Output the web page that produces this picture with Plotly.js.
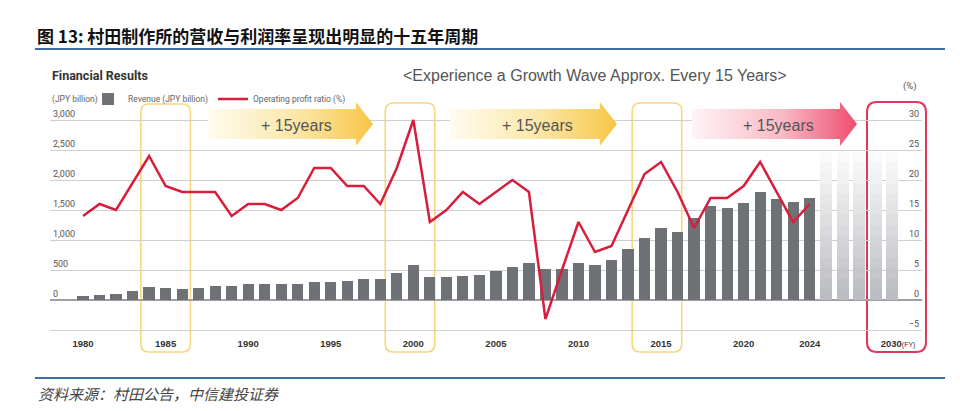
<!DOCTYPE html>
<html>
<head>
<meta charset="utf-8">
<script src="https://cdn.plot.ly/plotly-3.0.1.min.js"></script>
<style>html,body{margin:0;padding:0;background:#fff;}#chart{width:960px;height:411px;}</style>
</head>
<body>
<div id="chart"></div>
<script>
// ---- data ----
const YEARS = [1980,1981,1982,1983,1984,1985,1986,1987,1988,1989,1990,1991,1992,1993,1994,1995,1996,1997,1998,1999,2000,2001,2002,2003,2004,2005,2006,2007,2008,2009,2010,2011,2012,2013,2014,2015,2016,2017,2018,2019,2020,2021,2022,2023,2024];
const REVENUE = [60,90,105,155,210,195,190,200,240,240,270,270,265,270,305,305,320,355,355,445,580,390,390,405,415,485,555,620,510,520,610,580,665,845,1040,1205,1130,1360,1565,1530,1620,1805,1680,1640,1695];
const OP_RATIO = [14,16,15,19.5,24,19,18,18,18,14,16,16,15,17,22,22,19,19,16,22,30,13,15,18,16,18,20,18,-3.2,5,13,8,9,15,21,23,18,12,17,17,19,23,18,13,16];
const FUTURE_YEARS = [2025,2026,2027,2028,2029];
const FUTURE_REVENUE = [2470,2470,2470,2470,2470];
const X_TICKS = [1980,1985,1990,1995,2000,2005,2010,2015,2020,2024,2029.35];
const X_TICK_TEXT = ['1980','1985','1990','1995','2000','2005','2010','2015','2020','2024','2030<span style="font-size:7px;font-weight:normal">(FY)</span>'];
const LEFT_TICKS = [0,500,1000,1500,2000,2500,3000];
const RIGHT_TICKS = [-5,0,5,10,15,20,25,30];

// ---- geometry ----
const W = 960, H = 411;
const M = {l:50, r:38, t:98, b:79};
const PW = W - M.l - M.r, PH = H - M.t - M.b;
const XR = [1978.0, 2030.8];
const YR = [-533.33, 3366.67];
const Y2R = [-5.3333, 33.6667];
const X = px => (px - M.l) / PW;
const Y = py => (H - M.b - py) / PH;
const XY = yr => (yr - XR[0]) / (XR[1] - XR[0]);

function rrect(x0, x1, y0, y1, r, color, w) {
  const rx = r / PW, ry = r / PH;
  const p = `M${x0+rx},${y1} L${x1-rx},${y1} Q${x1},${y1} ${x1},${y1-ry} L${x1},${y0+ry} Q${x1},${y0} ${x1-rx},${y0} L${x0+rx},${y0} Q${x0},${y0} ${x0},${y0+ry} L${x0},${y1-ry} Q${x0},${y1} ${x0+rx},${y1} Z`;
  return {type:'path', xref:'paper', yref:'paper', path:p, line:{color:color, width:w}, fillcolor:'rgba(0,0,0,0)', layer:'below'};
}
function arrowSrc(c0, c1, c2) {
  const svg = `<svg xmlns='http://www.w3.org/2000/svg' width='165' height='44' viewBox='0 0 165 44' preserveAspectRatio='none'><defs><linearGradient id='g' x1='0' x2='1' y1='0' y2='0'><stop offset='0' stop-color='${c0}'/><stop offset='0.55' stop-color='${c1}'/><stop offset='1' stop-color='${c2}'/></linearGradient></defs><polygon points='0,7 148,7 148,0 165,22 148,44 148,37 0,37' fill='url(#g)'/></svg>`;
  return 'data:image/svg+xml;charset=utf-8,' + encodeURIComponent(svg);
}
function arrowImg(x0, x1, c0, c1, c2) {
  return {source: arrowSrc(c0, c1, c2), xref:'paper', yref:'paper', x:X(x0), y:Y(102), sizex:(x1-x0)/PW, sizey:44/PH, xanchor:'left', yanchor:'top', sizing:'stretch', layer:'above'};
}

// ---- traces ----
const traces = [];
const N = 14;
for (let k = N; k >= 1; k--) {
  const t = (k - 1) / (N - 1); // 0 bottom (dark) .. 1 top (light)
  const c0 = [186,189,193], c1 = [250,250,251];
  const c = c0.map((v,i) => Math.round(v + (c1[i]-v)*t));
  traces.push({type:'bar', x:FUTURE_YEARS, y:FUTURE_REVENUE.map(v => v * k / N), width:0.7,
    marker:{color:`rgb(${c.join(',')})`, line:{width:0}}, showlegend:false, hoverinfo:'skip', yaxis:'y'});
}
traces.push({type:'bar', name:'Revenue (JPY billion)', x:YEARS, y:REVENUE, width:0.68,
  marker:{color:'#6e7175', line:{width:0}}, yaxis:'y'});
traces.push({type:'scatter', mode:'lines', name:'Operating profit ratio (%)', x:YEARS, y:OP_RATIO,
  line:{color:'#d81e3d', width:2.5}, yaxis:'y2'});

const greyTxt = '#555';
const layout = {
  width:W, height:H, margin:M,
  paper_bgcolor:'#fff', plot_bgcolor:'rgba(0,0,0,0)',
  barmode:'overlay', bargap:0, hovermode:false,
  font:{family:'Roboto, sans-serif', color:greyTxt},
  showlegend:true,
  legend:{orientation:'h', x:X(88), xanchor:'left', y:Y(99), yanchor:'middle',
    font:{family:'Roboto, sans-serif', size:8.5, color:'#666'}, itemwidth:30, bgcolor:'rgba(0,0,0,0)', tracegroupgap:0},
  xaxis:{range:XR, tickvals:X_TICKS, ticktext:X_TICK_TEXT, showgrid:false, zeroline:false, showline:false,
    ticks:'outside', ticklen:3, tickcolor:'rgba(0,0,0,0)',
    tickfont:{family:'Liberation Sans, Arial, sans-serif', size:9.5, color:'#333', weight:'bold'}, fixedrange:true},
  yaxis:{range:YR, tickvals:LEFT_TICKS, tickformat:',d', showgrid:false, zeroline:true, zerolinecolor:'#a0a0a0', zerolinewidth:1.5,
    ticks:'', ticklabelposition:'inside top', tickfont:{family:'Roboto, sans-serif', size:9, color:greyTxt}, fixedrange:true},
  yaxis2:{range:Y2R, tickvals:RIGHT_TICKS, overlaying:'y', side:'right', showgrid:true, gridcolor:'#cfcfcf', gridwidth:1,
    zeroline:false, ticks:'', ticklabelposition:'inside top', tickfont:{family:'Roboto, sans-serif', size:9, color:greyTxt}, fixedrange:true},
  shapes:[
    {type:'line', xref:'paper', yref:'paper', x0:X(35), x1:X(945), y0:Y(49), y1:Y(49), line:{color:'#3f6f9f', width:2}},
    {type:'line', xref:'paper', yref:'paper', x0:X(35), x1:X(945), y0:Y(378), y1:Y(378), line:{color:'#3f6f9f', width:2}},
    rrect(XY(1983.5), XY(1986.5), Y(352), Y(104), 8, '#f8d77c', 1.6),
    rrect(XY(1998.3), XY(2001.3), Y(352), Y(103), 8, '#f8d77c', 1.6),
    rrect(XY(2013.25), XY(2016.25), Y(352), Y(103), 8, '#f8d77c', 1.6),
    rrect(XY(2027.47), XY(2031.04), Y(352), Y(102), 10, '#e0355c', 2)
  ],
  images:[
    arrowImg(208, 373, '#fffcf0', '#fbe6a6', '#f7c646'),
    arrowImg(450, 617, '#fffcf0', '#fbe6a6', '#f7c646'),
    arrowImg(692, 857, '#fff4f6', '#f9b9c6', '#ef4d6d')
  ],
  annotations:[
    {xref:'paper', yref:'paper', x:X(35), y:Y(35), xanchor:'left', yanchor:'middle', showarrow:false,
      text:'图 13: 村田制作所的营收与利润率呈现出明显的十五年周期', font:{family:'Noto Sans CJK SC, sans-serif', size:17, color:'#111', weight:'bold'}},
    {xref:'paper', yref:'paper', x:X(50), y:Y(76), xanchor:'left', yanchor:'middle', showarrow:false,
      text:'Financial Results', font:{family:'Roboto, sans-serif', size:12.5, color:'#333', weight:'bold'}},
    {xref:'paper', yref:'paper', x:X(50), y:Y(99), xanchor:'left', yanchor:'middle', showarrow:false,
      text:'(JPY billion)', font:{family:'Roboto, sans-serif', size:8.5, color:'#666'}},
    {xref:'paper', yref:'paper', x:X(595), y:Y(76), xanchor:'center', yanchor:'middle', showarrow:false,
      text:'&lt;Experience a Growth Wave Approx. Every 15 Years&gt;', font:{family:'Liberation Sans, Arial, sans-serif', size:16, color:greyTxt}},
    {xref:'paper', yref:'paper', x:X(919), y:Y(86), xanchor:'right', yanchor:'middle', showarrow:false,
      text:'(%)', font:{family:'Roboto, sans-serif', size:9.5, color:greyTxt}},
    {xref:'paper', yref:'paper', x:X(296), y:Y(125), xanchor:'center', yanchor:'middle', showarrow:false,
      text:'+ 15years', font:{family:'Liberation Sans, Arial, sans-serif', size:16, color:'#555'}},
    {xref:'paper', yref:'paper', x:X(537), y:Y(125), xanchor:'center', yanchor:'middle', showarrow:false,
      text:'+ 15years', font:{family:'Liberation Sans, Arial, sans-serif', size:16, color:'#555'}},
    {xref:'paper', yref:'paper', x:X(778), y:Y(125), xanchor:'center', yanchor:'middle', showarrow:false,
      text:'+ 15years', font:{family:'Liberation Sans, Arial, sans-serif', size:16, color:'#555'}},
    {xref:'paper', yref:'paper', x:X(36), y:Y(393), xanchor:'left', yanchor:'middle', showarrow:false,
      text:'<i>资料来源：村田公告，中信建投证券</i>', font:{family:'Noto Sans CJK SC, sans-serif', size:15, color:'#444'}}
  ]
};
Plotly.newPlot('chart', traces, layout, {staticPlot:true, displayModeBar:false});
</script>
</body>
</html>
